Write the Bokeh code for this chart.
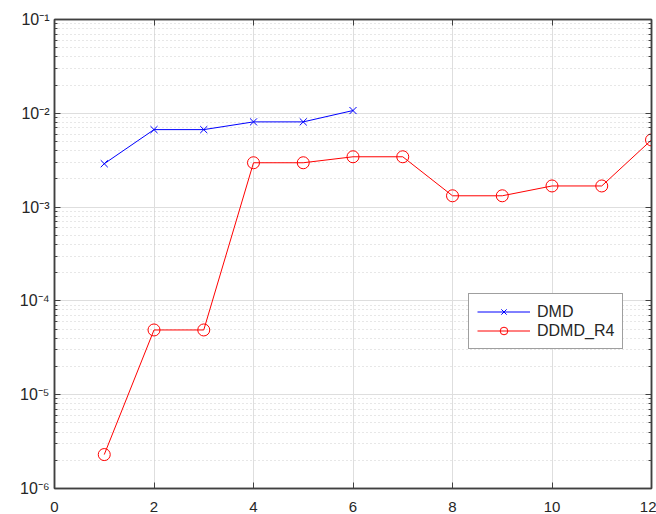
from bokeh.plotting import figure
from bokeh.models import FixedTicker, LinearAxis, LogAxis, CustomJSTickFormatter, Legend, LegendItem, Range1d
from bokeh.embed import file_html
from bokeh.resources import INLINE

# data
dmd_x = [1, 2, 3, 4, 5, 6]
dmd_y = [2.9e-3, 6.7e-3, 6.7e-3, 8.1e-3, 8.1e-3, 1.07e-2]
ddmd_x = [1, 2, 3, 4, 5, 6, 7, 8, 9, 10, 11, 12]
ddmd_y = [2.3e-6, 4.9e-5, 4.9e-5, 2.97e-3, 2.97e-3, 3.44e-3, 3.44e-3,
          1.32e-3, 1.32e-3, 1.68e-3, 1.68e-3, 5.2e-3]
x_ticks = [0, 2, 4, 6, 8, 10, 12]
y_ticks = [1e-6, 1e-5, 1e-4, 1e-3, 1e-2, 1e-1]
y_minor = [m * t for t in y_ticks[:-1] for m in range(2, 10)]

FONT = "Liberation Sans"
AX = "#404040"
GRID = "#dedede"

p = figure(width=656, height=514, y_axis_type="log", output_backend="svg",
           toolbar_location=None, x_range=Range1d(0, 12), y_range=Range1d(1e-6, 1e-1),
           min_border_left=54, min_border_top=19, min_border_right=5, min_border_bottom=0)
p.background_fill_color = "white"
p.border_fill_color = "white"
p.outline_line_color = AX
p.outline_line_width = 1.5

xt = FixedTicker(ticks=x_ticks)
yt = FixedTicker(ticks=y_ticks, minor_ticks=y_minor)
fmt = CustomJSTickFormatter(code="""
const sup = {'-':'\u207b','0':'\u2070','1':'\u00b9','2':'\u00b2','3':'\u00b3','4':'\u2074','5':'\u2075','6':'\u2076','7':'\u2077','8':'\u2078','9':'\u2079'};
const e = Math.round(Math.log10(tick));
return '10' + String(e).split('').map(c => sup[c]).join('');
""")
blank = CustomJSTickFormatter(code="return '';")

p.xaxis.ticker = xt
p.yaxis.ticker = yt
p.yaxis.formatter = fmt
for ax in (p.xaxis[0], p.yaxis[0]):
    ax.axis_line_color = AX
    ax.axis_line_width = 1.5
    ax.major_tick_line_color = AX
    ax.minor_tick_line_color = AX
    ax.major_tick_in = 6
    ax.major_tick_out = 0
    ax.minor_tick_in = 3
    ax.minor_tick_out = 0
    ax.major_label_text_font = FONT
    ax.major_label_text_color = "#262626"
p.xaxis.major_label_text_font_size = "15px"
p.yaxis.major_label_text_font_size = "16px"
p.xaxis.major_label_standoff = 13
p.yaxis.major_label_standoff = 5
p.xaxis.minor_tick_line_color = None

top = LinearAxis(ticker=xt, formatter=blank, major_label_standoff=0,
                 major_tick_in=6, major_tick_out=0, minor_tick_line_color=None,
                 axis_line_color=AX, axis_line_width=1.5, major_tick_line_color=AX)
right = LogAxis(ticker=yt, formatter=blank, major_label_standoff=0,
                major_tick_in=6, major_tick_out=0, minor_tick_in=3, minor_tick_out=0,
                axis_line_color=AX, axis_line_width=1.5, major_tick_line_color=AX,
                minor_tick_line_color=AX)
p.add_layout(top, "above")
p.add_layout(right, "right")

p.xgrid.ticker = xt
p.ygrid.ticker = yt
p.xgrid.grid_line_color = GRID
p.ygrid.grid_line_color = GRID
p.ygrid.minor_grid_line_color = "#cfcfcf"
p.ygrid.minor_grid_line_dash = "1 3"

l1 = p.line(dmd_x, dmd_y, line_color="blue", line_width=1)
m1 = p.scatter(dmd_x, dmd_y, marker="x", size=10, line_color="blue", line_width=1)
l2 = p.line(ddmd_x, ddmd_y, line_color="red", line_width=1)
m2 = p.scatter(ddmd_x, ddmd_y, marker="circle", size=12, line_color="red", fill_color=None, line_width=1)

legend = Legend(items=[LegendItem(label="DMD", renderers=[l1, m1]),
                       LegendItem(label="DDMD_R4", renderers=[l2, m2])],
                location=(414, 139), orientation="vertical")
legend.label_text_font = FONT
legend.label_text_font_size = "16px"
legend.label_text_color = "#262626"
legend.border_line_color = AX
legend.border_line_width = 1
legend.background_fill_color = "white"
legend.background_fill_alpha = 1
legend.glyph_width = 53
legend.glyph_height = 19
legend.label_height = 19
legend.label_standoff = 7
legend.padding = 8
legend.spacing = 0
legend.margin = 0
p.add_layout(legend, "center")

open("out.html", "w").write(file_html(p, INLINE))
